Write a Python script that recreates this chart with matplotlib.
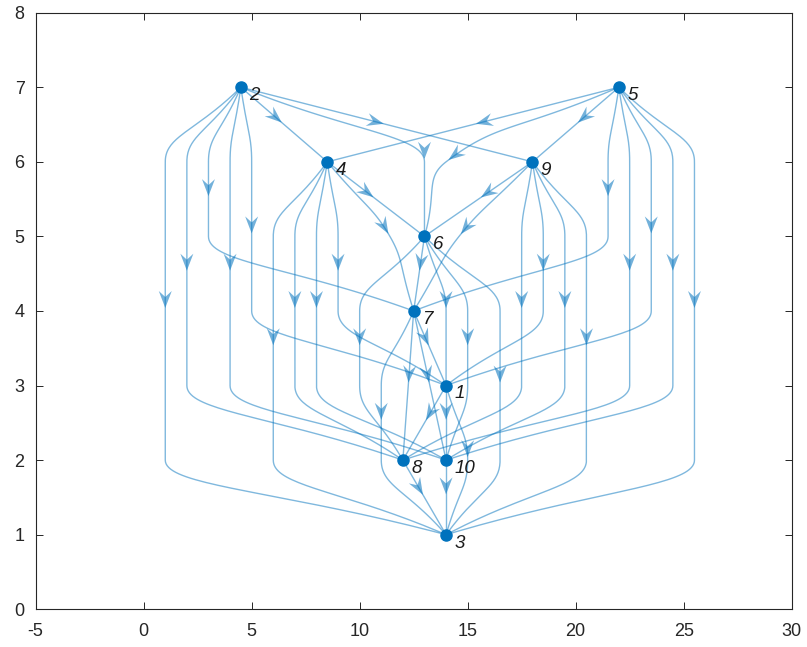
import numpy as np
import matplotlib.pyplot as plt
from matplotlib.patches import Polygon

plt.rcParams['font.family'] = ['Liberation Sans', 'DejaVu Sans']
plt.rcParams['axes.unicode_minus'] = False

# nodes of the layered digraph
node_names = ['1', '2', '3', '4', '5', '6', '7', '8', '9', '10']
node_x = [14, 4.5, 14, 8.5, 22, 13, 12.5, 12, 18, 14]
node_y = [3, 7, 1, 6, 7, 5, 4, 2, 6, 2]

# edges: source, target and x of the bend point on every layer in between
edge_from = [2, 2, 2, 2, 2, 2, 2, 2,
             5, 5, 5, 5, 5, 5, 5, 5,
             4, 4, 4, 4, 4, 4,
             9, 9, 9, 9, 9, 9,
             6, 6, 6, 6, 6,
             7, 7, 7, 7,
             1, 1, 1,
             8, 10]
edge_to = [4, 9, 6, 7, 1, 8, 10, 3,
           4, 9, 6, 7, 1, 8, 10, 3,
           6, 7, 1, 8, 10, 3,
           6, 7, 1, 8, 10, 3,
           7, 1, 8, 10, 3,
           1, 8, 10, 3,
           8, 10, 3,
           3, 3]
edge_bends = [[], [], [13], [3, 3], [5, 5, 5], [2, 2, 2, 2], [4, 4, 4, 4], [1, 1, 1, 1, 1],
              [], [], [14], [21.5, 21.5], [23.5, 23.5, 23.5], [22.5, 22.5, 22.5, 22.5],
              [24.5, 24.5, 24.5, 24.5], [25.5, 25.5, 25.5, 25.5, 25.5],
              [], [11.4], [9, 9], [7, 7, 7], [8, 8, 8], [6, 6, 6, 6],
              [], [14.6], [18.5, 18.5], [17.5, 17.5, 17.5], [19.5, 19.5, 19.5], [20.5, 20.5, 20.5, 20.5],
              [], [14], [10, 10], [15, 15], [16.5, 16.5, 16.5],
              [], [], [], [11, 11],
              [], [], [15],
              [], []]

edge_color = '#0072BD'

fig = plt.figure(figsize=(8.07, 6.47), dpi=100)
ax = fig.add_axes([0.0442, 0.0583, 0.9368, 0.9221])
ax.set_xlim(-5, 30)
ax.set_ylim(0, 8)
ax.set_xticks(range(-5, 31, 5))
ax.set_yticks(range(0, 9))
ax.tick_params(direction='in', top=True, right=True, length=5, width=0.7,
               colors='#262626', labelsize=13)
ax.tick_params(axis='x', pad=10)
ax.tick_params(axis='y', pad=8)
for sp in ax.spines.values():
    sp.set_color('#262626')
    sp.set_linewidth(0.8)

to_px = ax.transData.transform
to_data = ax.transData.inverted().transform


def unit(v):
    n = np.hypot(v[0], v[1])
    return v / n if n > 0 else v


def bezier(p0, c1, c2, p1, t):
    return ((1 - t) ** 3) * p0 + 3 * ((1 - t) ** 2) * t * c1 + 3 * (1 - t) * t * t * c2 + t ** 3 * p1


def bezier_d(p0, c1, c2, p1, t):
    return 3 * ((1 - t) ** 2) * (c1 - p0) + 6 * (1 - t) * t * (c2 - c1) + 3 * t * t * (p1 - c2)


for s, d, bends in zip(edge_from, edge_to, edge_bends):
    xs = [node_x[s - 1]] + list(bends) + [node_x[d - 1]]
    ys = [node_y[s - 1] - i for i in range(len(bends) + 1)] + [node_y[d - 1]]
    pts = to_px(np.column_stack([xs, ys]))
    n = len(pts)

    # tangent at every point (pixel space)
    tang = []
    kind = []
    for k in range(n):
        if k == 0:
            tang.append(unit(pts[1] - pts[0])); kind.append('end')
        elif k == n - 1:
            tang.append(unit(pts[-1] - pts[-2])); kind.append('end')
        elif abs(xs[k - 1] - xs[k]) < 1e-9 or abs(xs[k + 1] - xs[k]) < 1e-9:
            tang.append(np.array([0.0, -1.0])); kind.append('vert')
        else:
            tang.append(unit(pts[k + 1] - pts[k - 1])); kind.append('free')

    segs = []
    for k in range(n - 1):
        p0, p1 = pts[k], pts[k + 1]
        L = np.hypot(*(p1 - p0))
        dy = abs(p1[1] - p0[1])
        if n == 2:
            c1 = p0 + (p1 - p0) / 3
            c2 = p1 - (p1 - p0) / 3
        else:
            a = {'end': 0.6 * L, 'vert': 0.35 * dy, 'free': 0.35 * L}
            c1 = p0 + tang[k] * a[kind[k]]
            c2 = p1 - tang[k + 1] * a[kind[k + 1]]
        segs.append((p0, c1, c2, p1))

    tt = np.linspace(0, 1, 40)
    curve = np.vstack([np.array([bezier(*sg, t) for t in tt]) for sg in segs])
    cd = to_data(curve)
    ax.plot(cd[:, 0], cd[:, 1], color=edge_color, alpha=0.5, lw=1.0, zorder=2)

    # arrow head in the middle of the edge
    mid = (n - 1) / 2.0
    i = min(int(np.floor(mid)), n - 2)
    t = mid - i
    tip = bezier(*segs[i], t)
    dirv = unit(bezier_d(*segs[i], t))
    if np.hypot(*dirv) == 0:
        dirv = tang[i]
    nrm = np.array([-dirv[1], dirv[0]])
    tip = tip - dirv * 3
    head = np.array([tip,
                     tip - dirv * 17 + nrm * 6.5,
                     tip - dirv * 11,
                     tip - dirv * 17 - nrm * 6.5])
    ax.add_patch(Polygon(to_data(head), closed=True, facecolor=edge_color,
                         edgecolor='none', alpha=0.55, zorder=3))

ax.plot(node_x, node_y, 'o', color=edge_color, ms=8, zorder=4, clip_on=False)
for name, x, y in zip(node_names, node_x, node_y):
    ax.annotate(name, (x, y), xytext=(6, -6), textcoords='offset points',
                ha='left', va='center', fontsize=13.5, style='italic', color='#1a1a1a', zorder=5)

fig.savefig('out.png', dpi=100)
